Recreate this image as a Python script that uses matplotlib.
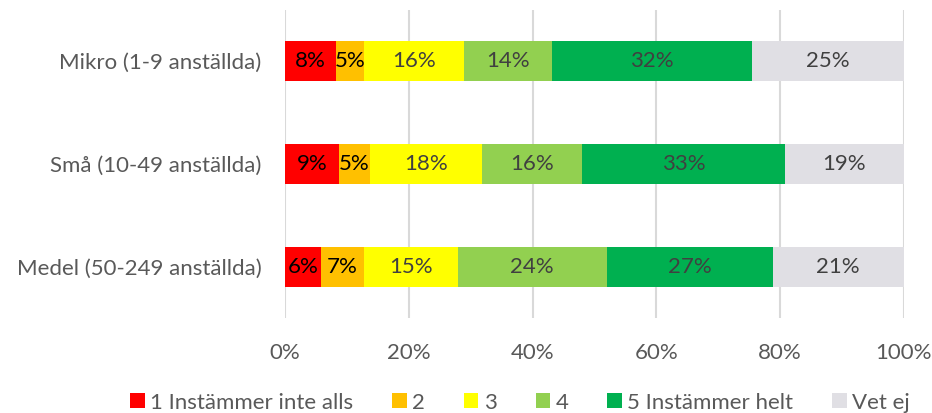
import matplotlib
matplotlib.use("Agg")
import matplotlib.pyplot as plt
import numpy as np

plt.rcParams["font.family"] = ["Lato", "DejaVu Sans"]

categories = ["Mikro (1-9 anställda)", "Små (10-49 anställda)", "Medel (50-249 anställda)"]
series_names = ["1 Instämmer inte alls", "2", "3", "4", "5 Instämmer helt", "Vet ej"]
colors = ["#FF0000", "#FFC000", "#FFFF00", "#92D050", "#00B050", "#E0DFE4"]
text_colors = ["#000000", "#000000", "#404040", "#404040", "#404040", "#404040"]

# share per answer (%), one list per series, rows follow categories
svar_1 = [8.2, 8.7, 5.8]
svar_2 = [4.6, 5.0, 7.0]
svar_3 = [16.1, 18.1, 15.1]
svar_4 = [14.2, 16.2, 24.1]
svar_5 = [32.3, 32.8, 26.8]
vet_ej = [24.6, 19.2, 21.2]
values = [svar_1, svar_2, svar_3, svar_4, svar_5, vet_ej]

xticks = [0, 20, 40, 60, 80, 100]

fig = plt.figure(figsize=(9.32, 4.13), dpi=100)
ax = fig.add_axes([0.3058, 0.23, 0.664, 0.746])

y = np.arange(len(categories))
left = np.zeros(len(categories))
for vals, name, col, tcol in zip(values, series_names, colors, text_colors):
    vals = np.array(vals)
    ax.barh(y, vals, left=left, height=0.39, color=col, label=name, zorder=2)
    for yi, l, v in zip(y, left, vals):
        ax.text(l + v / 2, yi, f"{round(v):.0f}%", ha="center", va="center",
                fontsize=16, color=tcol, zorder=3)
    left += vals

ax.set_xlim(0, 100)
ax.set_ylim(len(categories) - 0.5, -0.5)
ax.set_xticks(xticks)
ax.set_xticklabels([f"{t}%" for t in xticks])
ax.set_yticks(y)
ax.set_yticklabels(categories)
ax.tick_params(axis="x", length=0, pad=18, labelsize=16, labelcolor="#595959")
ax.tick_params(axis="y", length=0, pad=17, labelsize=16, labelcolor="#595959")
ax.grid(axis="x", color="#D9D9D9", linewidth=1.5, zorder=0)
for s in ax.spines.values():
    s.set_visible(False)

fig.legend(loc="center", bbox_to_anchor=(0.558, 0.025), ncol=6, frameon=False,
           fontsize=16, handlelength=0.65, handleheight=0.65, handletextpad=0.25,
           columnspacing=1.75, labelcolor="#595959")

fig.savefig("out.png", dpi=100)
